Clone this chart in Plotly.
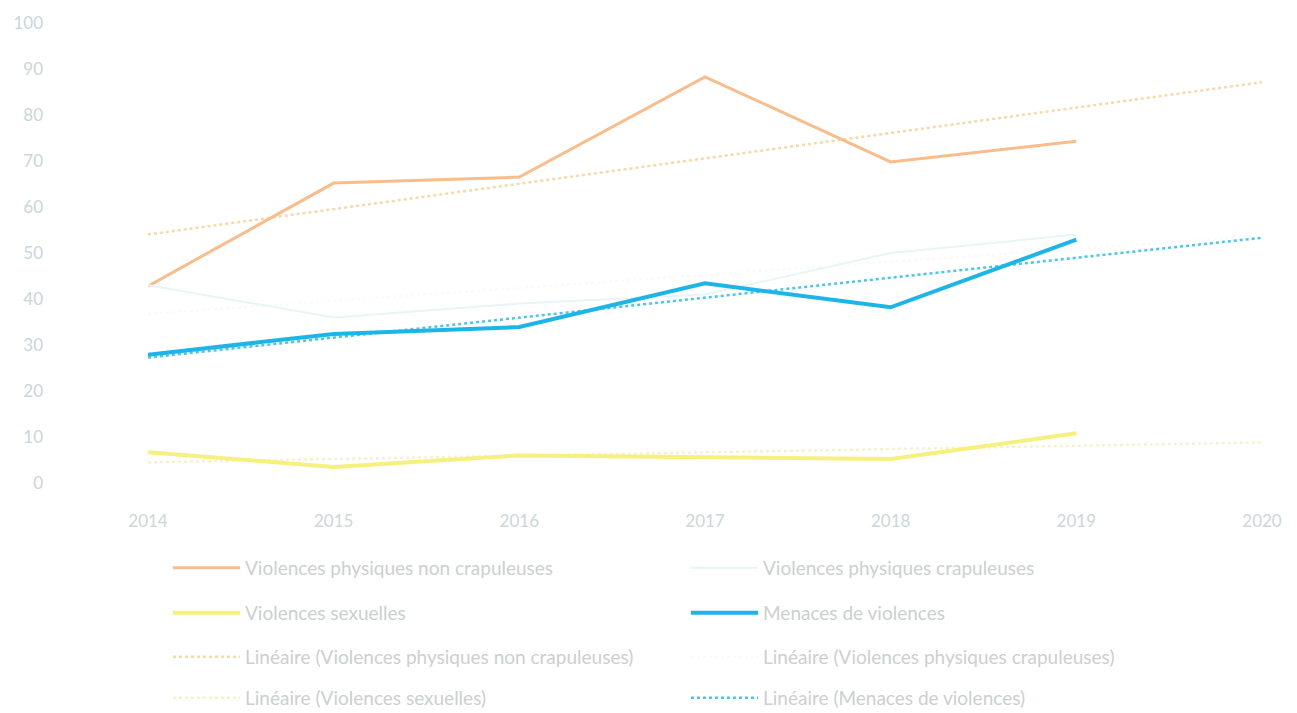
import numpy as np
import plotly.graph_objects as go

years = [2014, 2015, 2016, 2017, 2018, 2019]
trend_years = [2014, 2020]

non_crapuleuses = [42.8, 65.2, 66.5, 88.3, 69.8, 74.3]
crapuleuses = [43.0, 36.0, 39.0, 41.0, 50.0, 54.0]
sexuelles = [6.7, 3.5, 6.0, 5.6, 5.2, 10.8]
menaces = [27.9, 32.4, 33.9, 43.4, 38.2, 52.9]

names = [
    "Violences physiques non crapuleuses",
    "Violences physiques crapuleuses",
    "Violences sexuelles",
    "Menaces de violences",
]

y_ticks = list(range(0, 101, 10))
x_ticks = [2014, 2015, 2016, 2017, 2018, 2019, 2020]

series = [non_crapuleuses, crapuleuses, sexuelles, menaces]
line_colors = ["#F8BD8A", "#E9F4F5", "#F6F17E", "#1DB5E8"]
line_widths = [3, 2, 4, 4]
trend_colors = ["#F7D9A8", "#F9FBFB", "#F6F3CC", "#48C6EE"]
legend_ids = ["legend", "legend", "legend2", "legend2"]
trend_legend_ids = ["legend3", "legend3", "legend4", "legend4"]

fig = go.Figure()


def linear_trend(xs, ys, x_out):
    slope, intercept = np.polyfit(np.array(xs, float), np.array(ys, float), 1)
    return [slope * x + intercept for x in x_out]


# dotted linear trendlines extended to 2020
for i, (vals, name) in enumerate(zip(series, names)):
    fig.add_trace(go.Scatter(
        x=trend_years, y=linear_trend(years, vals, trend_years),
        mode="lines", name=f"Linéaire ({name})",
        line=dict(color=trend_colors[i], width=2.5, dash="dot"),
        legend=trend_legend_ids[i], legendrank=i,
    ))

# observed series
for i, (vals, name) in enumerate(zip(series, names)):
    fig.add_trace(go.Scatter(
        x=years, y=vals, mode="lines", name=name,
        line=dict(color=line_colors[i], width=line_widths[i]),
        legend=legend_ids[i], legendrank=i,
    ))

legend_font = dict(family="Lato, sans-serif", size=19, color="#CBD0D0")
row_centers = [568, 613, 657, 698]


def legend_box(yc):
    return dict(
        orientation="h", xref="container", yref="container",
        x=168 / 1297, y=1 - yc / 713, xanchor="left", yanchor="middle",
        entrywidth=436, entrywidthmode="pixels", itemwidth=67,
        font=legend_font, bgcolor="rgba(0,0,0,0)", traceorder="normal",
        itemclick=False,
    )


fig.update_layout(
    width=1297, height=713,
    margin=dict(l=148, r=35, t=20, b=230),
    paper_bgcolor="white", plot_bgcolor="white",
    font=dict(family="Lato, sans-serif", color="#C9D5D8"),
    showlegend=True,
    legend=legend_box(row_centers[0]),
    legend2=legend_box(row_centers[1]),
    legend3=legend_box(row_centers[2]),
    legend4=legend_box(row_centers[3]),
    xaxis=dict(
        range=[2014, 2020], tickvals=x_ticks, ticktext=[str(v) for v in x_ticks],
        showgrid=False, zeroline=False, showline=False,
        ticklabelstandoff=26, tickfont=dict(size=17, color="#CDD6D8"),
    ),
    yaxis=dict(
        range=[0, 100], tickvals=y_ticks, ticktext=[str(v) for v in y_ticks],
        showgrid=False, zeroline=False, showline=False,
        ticklabelstandoff=104, tickfont=dict(size=17, color="#C9D6D9"),
    ),
)

fig.write_html("out.html")
